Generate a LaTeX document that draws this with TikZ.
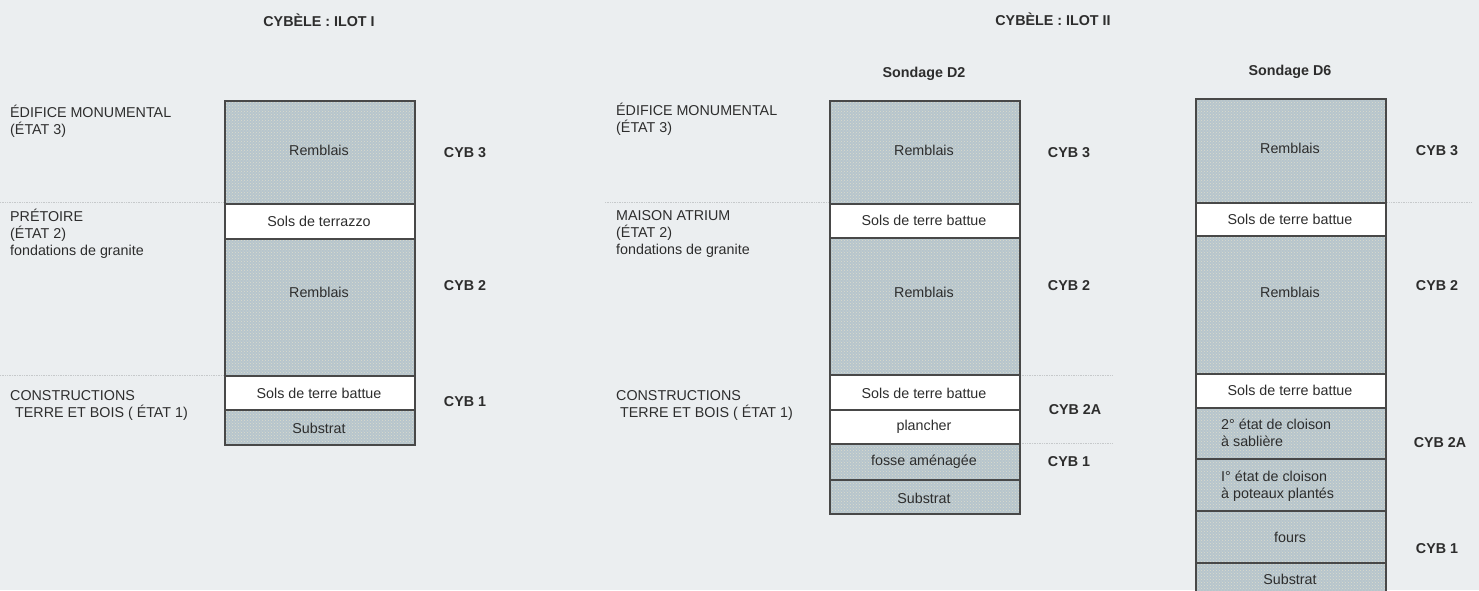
\documentclass[tikz,border=0pt]{standalone}
\usepackage{fontspec}
\setmainfont{Liberation Sans}
\usetikzlibrary{patterns}
\definecolor{bg}{RGB}{235,238,240}
\definecolor{fillc}{RGB}{182,197,205}
\definecolor{dotc}{RGB}{220,219,204}
\definecolor{ink}{RGB}{45,45,45}
\definecolor{edge}{RGB}{72,72,72}
\definecolor{guide}{RGB}{198,201,203}
\begin{document}
\begin{tikzpicture}[x=1pt,y=-1pt,
  txt/.style={font=\fontsize{14.3}{17}\selectfont, text=ink, inner sep=0pt, anchor=base},
  lab/.style={txt, anchor=base west},
  cyb/.style={txt, font=\fontsize{14.3}{17}\selectfont\bfseries},
  layer/.style={draw=edge, line width=1.8pt, anchor=north west, inner sep=0pt, minimum width=190pt},
  soil/.style={layer, preaction={fill=fillc}, pattern=crosshatch dots, pattern color=dotc},
  floor/.style={layer, fill=white},
  guideline/.style={draw=guide, line width=0.7pt, densely dotted}]
\fill[bg] (0,0) rectangle (1479,590);
\useasboundingbox (0,0) rectangle (1479,590);

% guide lines
\coordinate (g1a) at (0,202); \coordinate (g1b) at (224,202);
\coordinate (g2a) at (0,375); \coordinate (g2b) at (224,375);
\coordinate (g3a) at (605,202); \coordinate (g3b) at (829,202);
\coordinate (g4a) at (1020,375); \coordinate (g4b) at (1112,375);
\coordinate (g5a) at (1020,443); \coordinate (g5b) at (1112,443);
\coordinate (g6a) at (1384,202); \coordinate (g6b) at (1472,202);
\draw[guideline] (g1a) -- (g1b);
\draw[guideline] (g2a) -- (g2b);
\draw[guideline] (g3a) -- (g3b);
\draw[guideline] (g4a) -- (g4b);
\draw[guideline] (g5a) -- (g5b);
\draw[guideline] (g6a) -- (g6b);

% titles
\node[cyb] (t1) at (319,26) {CYBÈLE : ILOT I};
\node[cyb] (t2) at (1053,25) {CYBÈLE : ILOT II};
\node[cyb] (sd2) at (924,77) {Sondage D2};
\node[cyb] (sd6) at (1290,75) {Sondage D6};

% ---------- ILOT I ----------
\node[soil, minimum height=103pt] (a1) at (224,100) {};
\node[floor, minimum height=35pt] (a2) at (224,203) {};
\node[soil, minimum height=137pt] (a3) at (224,238) {};
\node[floor, minimum height=34pt] (a4) at (224,375) {};
\node[soil, minimum height=35pt] (a5) at (224,409) {};
\node[txt] (ta1) at (319,155) {Remblais};
\node[txt] (ta2) at (319,226) {Sols de terrazzo};
\node[txt] (ta3) at (319,297) {Remblais};
\node[txt] (ta4) at (319,398) {Sols de terre battue};
\node[txt] (ta5) at (319,433) {Substrat};

\node[lab] (la1) at (10,117) {ÉDIFICE MONUMENTAL};
\node[lab] (la2) at (10,134) {(ÉTAT 3)};
\node[lab] (la3) at (10,221) {PRÉTOIRE};
\node[lab] (la4) at (10,238) {(ÉTAT 2)};
\node[lab] (la5) at (10,255) {fondations de granite};
\node[lab] (la6) at (10,400) {CONSTRUCTIONS};
\node[lab] (la7) at (15,417) {TERRE ET BOIS ( ÉTAT 1)};

\node[cyb] (ca3) at (465,157) {CYB 3};
\node[cyb] (ca2) at (465,290) {CYB 2};
\node[cyb] (ca1) at (465,406) {CYB 1};

% ---------- SONDAGE D2 ----------
\node[soil, minimum height=103pt] (b1) at (829,100) {};
\node[floor, minimum height=34pt] (b2) at (829,203) {};
\node[soil, minimum height=137pt] (b3) at (829,237) {};
\node[floor, minimum height=35pt] (b4) at (829,374) {};
\node[floor, minimum height=34pt] (b5) at (829,409) {};
\node[soil, minimum height=36pt] (b6) at (829,443) {};
\node[soil, minimum height=34pt] (b7) at (829,479) {};
\node[txt] (tb1) at (924,155) {Remblais};
\node[txt] (tb2) at (924,225) {Sols de terre battue};
\node[txt] (tb3) at (924,297) {Remblais};
\node[txt] (tb4) at (924,398) {Sols de terre battue};
\node[txt] (tb5) at (924,430) {plancher};
\node[txt] (tb6) at (924,465) {fosse aménagée};
\node[txt] (tb7) at (924,503) {Substrat};

\node[lab] (lb1) at (616,115) {ÉDIFICE MONUMENTAL};
\node[lab] (lb2) at (616,132) {(ÉTAT 3)};
\node[lab] (lb3) at (616,220) {MAISON ATRIUM};
\node[lab] (lb4) at (616,237) {(ÉTAT 2)};
\node[lab] (lb5) at (616,254) {fondations de granite};
\node[lab] (lb6) at (616,400) {CONSTRUCTIONS};
\node[lab] (lb7) at (620,417) {TERRE ET BOIS ( ÉTAT 1)};

\node[cyb] (cb3) at (1069,157) {CYB 3};
\node[cyb] (cb2) at (1069,290) {CYB 2};
\node[cyb] (cb2a) at (1075,414) {CYB 2A};
\node[cyb] (cb1) at (1069,466) {CYB 1};

% ---------- SONDAGE D6 ----------
\node[soil, minimum height=104pt] (c1) at (1195,98) {};
\node[floor, minimum height=33pt] (c2) at (1195,202) {};
\node[soil, minimum height=138pt] (c3) at (1195,235) {};
\node[floor, minimum height=34pt] (c4) at (1195,373) {};
\node[soil, minimum height=51pt] (c5) at (1195,407) {};
\node[soil, minimum height=52pt] (c6) at (1195,458) {};
\node[soil, minimum height=52pt] (c7) at (1195,510) {};
\node[soil, minimum height=40pt] (c8) at (1195,562) {};
\node[txt] (tc1) at (1290,153) {Remblais};
\node[txt] (tc2) at (1290,224) {Sols de terre battue};
\node[txt] (tc3) at (1290,297) {Remblais};
\node[txt] (tc4) at (1290,395) {Sols de terre battue};
\node[lab] (tc5a) at (1221,429) {2° état de cloison};
\node[lab] (tc5b) at (1221,446) {à sablière};
\node[lab] (tc6a) at (1221,481) {I° état de cloison};
\node[lab] (tc6b) at (1221,498) {à poteaux plantés};
\node[txt] (tc7) at (1290,542) {fours};
\node[txt] (tc8) at (1290,584) {Substrat};

\node[cyb] (cc3) at (1437,155) {CYB 3};
\node[cyb] (cc2) at (1437,290) {CYB 2};
\node[cyb] (cc2a) at (1440,447) {CYB 2A};
\node[cyb] (cc1) at (1437,553) {CYB 1};
\end{tikzpicture}
\end{document}
